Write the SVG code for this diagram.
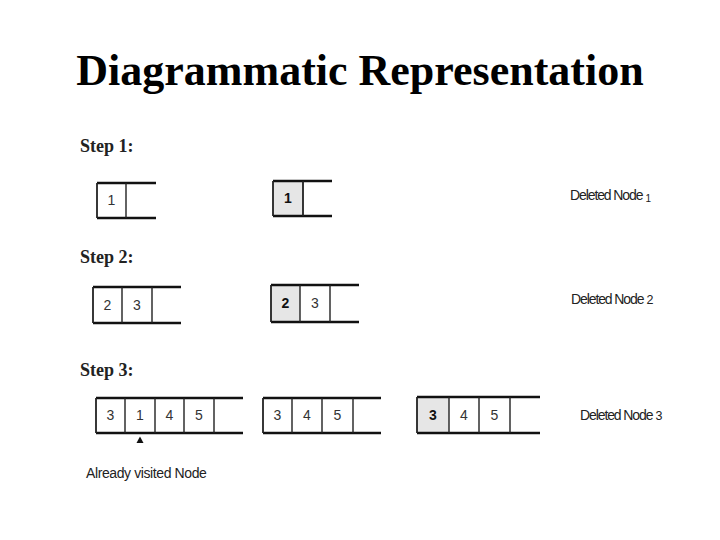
<svg xmlns="http://www.w3.org/2000/svg" width="720" height="540" viewBox="0 0 720 540">
<style>
.title{font-family:"Liberation Serif",serif;font-weight:bold;font-size:44px;fill:#000}
.step{font-family:"Liberation Serif",serif;font-weight:bold;font-size:18px;fill:#222}
.num{font-family:"Liberation Sans",Arial,sans-serif;font-size:14px;fill:#333;text-anchor:middle}
.numb{font-family:"Liberation Sans",Arial,sans-serif;font-size:14px;fill:#111;font-weight:bold;text-anchor:middle}
.lbl{font-family:"Liberation Sans",Arial,sans-serif;font-size:14px;fill:#222;letter-spacing:-1.1px}
.lbl2{font-family:"Liberation Sans",Arial,sans-serif;font-size:14px;fill:#222;letter-spacing:-0.4px}
.hl{stroke:#111;stroke-width:2.4;fill:none}
.vl{stroke:#222;stroke-width:1.4;fill:none}
.edge{stroke:#222;stroke-width:1.8;fill:none}
.shade{fill:#e6e6e6}
</style>
<rect width="720" height="540" fill="#fff"/>
<text class="title" x="360" y="85" text-anchor="middle">Diagrammatic Representation</text>
<text class="step" x="80" y="152">Step  1:</text>
<text class="step" x="80" y="263">Step  2:</text>
<text class="step" x="80" y="376">Step  3:</text>

<g id="q1a">
<path class="hl" d="M97 183H156M97 218H156"/>
<path class="edge" d="M97 183V218"/>
<path class="vl" d="M126 183V218"/>
<text class="num" x="111.5" y="205">1</text>
</g>
<g id="q1b">
<rect class="shade" x="273" y="181" width="30" height="35"/>
<path class="hl" d="M273 181H332M273 216H332"/>
<path class="edge" d="M273 181V216M303 181V216"/>
<text class="numb" x="288" y="203">1</text>
</g>
<g id="q2a">
<path class="hl" d="M93 287H181M93 323H181"/>
<path class="edge" d="M93 287V323"/>
<path class="vl" d="M122 287V323M152 287V323"/>
<text class="num" x="107.5" y="310">2</text>
<text class="num" x="137" y="310">3</text>
</g>
<g id="q2b">
<rect class="shade" x="271" y="285" width="29" height="37"/>
<path class="hl" d="M271 285H359M271 322H359"/>
<path class="edge" d="M271 285V322"/>
<path class="vl" d="M300 285V322M330 285V322"/>
<text class="numb" x="285.5" y="308">2</text>
<text class="num" x="315" y="308">3</text>
</g>
<g id="q3a">
<path class="hl" d="M96 398H243M96 433H243"/>
<path class="edge" d="M96 398V433"/>
<path class="vl" d="M125 398V433M155 398V433M184 398V433M214 398V433"/>
<text class="num" x="110.5" y="420">3</text>
<text class="num" x="140" y="420">1</text>
<text class="num" x="169.5" y="420">4</text>
<text class="num" x="199" y="420">5</text>
</g>
<g id="q3b">
<path class="hl" d="M263 398H381M263 433H381"/>
<path class="edge" d="M263 398V433"/>
<path class="vl" d="M292 398V433M322 398V433M353 398V433"/>
<text class="num" x="277.5" y="420">3</text>
<text class="num" x="307" y="420">4</text>
<text class="num" x="337.5" y="420">5</text>
</g>
<g id="q3c">
<rect class="shade" x="417" y="397" width="32" height="36"/>
<path class="hl" d="M417 397H540M417 433H540"/>
<path class="edge" d="M417 397V433"/>
<path class="vl" d="M449 397V433M479 397V433M510 397V433"/>
<text class="numb" x="433" y="420">3</text>
<text class="num" x="464" y="420">4</text>
<text class="num" x="494.5" y="420">5</text>
</g>

<g id="connectors">
<polygon points="140,436.5 136.5,443 143.5,443" fill="#111"/>
</g>

<g id="labels">
<text class="lbl" x="570" y="200">Deleted Node<tspan font-size="10px" dx="3" dy="2">1</tspan></text>
<text class="lbl" x="571" y="304">Deleted Node<tspan dx="3" font-size="12.5px">2</tspan></text>
<text class="lbl" x="580" y="420">Deleted Node<tspan dx="3" font-size="12.5px">3</tspan></text>
<text class="lbl2" x="86" y="478">Already visited Node</text>
</g>
</svg>
